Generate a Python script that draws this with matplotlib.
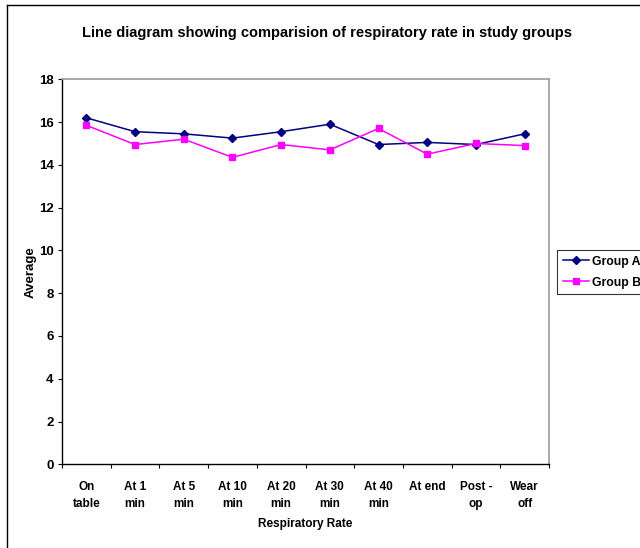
import matplotlib
matplotlib.use("Agg")
import matplotlib.pyplot as plt
from matplotlib.lines import Line2D

plt.rcParams['font.family'] = ['Liberation Sans', 'DejaVu Sans']
plt.rcParams['font.weight'] = 'bold'

categories = ["On\ntable", "At 1\nmin", "At 5\nmin", "At 10\nmin", "At 20\nmin",
              "At 30\nmin", "At 40\nmin", "At end", "Post -\nop", "Wear\noff"]
group_a = [16.2, 15.55, 15.45, 15.25, 15.55, 15.9, 14.95, 15.05, 14.95, 15.45]
group_b = [15.85, 14.95, 15.2, 14.35, 14.95, 14.7, 15.7, 14.5, 15.0, 14.9]
y_ticks = [0, 2, 4, 6, 8, 10, 12, 14, 16, 18]

fig = plt.figure(figsize=(6.4, 5.48), dpi=100)
ax = fig.add_axes([62/640, 1-464.3/548, (549-62)/640, (464.3-79.3)/548])

x = list(range(len(categories)))
ax.plot(x, group_a, color='#000080', marker='D', markersize=4.5, linewidth=1.1, label='Group A')
ax.plot(x, group_b, color='#FF00FF', marker='s', markersize=5, linewidth=1.1, label='Group B')

ax.set_xlim(-0.5, len(categories) - 0.5)
ax.set_ylim(0, 18)
ax.set_yticks(y_ticks)
ax.set_yticklabels([str(v) for v in y_ticks], fontsize=9.5, fontweight='bold')
ax.set_xticks([i - 0.5 for i in range(len(categories) + 1)])
ax.set_xticklabels([])
ax.set_xticks(x, minor=True)
ax.set_xticklabels(categories, minor=True, fontsize=8.5, fontweight='bold', linespacing=1.55)
ax.tick_params(axis='x', which='minor', length=0, pad=12)
ax.tick_params(axis='x', which='major', length=3, direction='out', color='black')
ax.tick_params(axis='y', length=3, direction='out', color='black', pad=3)

for s in ['top', 'right']:
    ax.spines[s].set_color('#999999')
    ax.spines[s].set_linewidth(1.2)
for s in ['left', 'bottom']:
    ax.spines[s].set_color('black')
    ax.spines[s].set_linewidth(1.0)

ax.set_xlabel('Respiratory Rate', fontsize=8.5, fontweight='bold', labelpad=6)
ax.set_ylabel('Average', fontsize=9.5, fontweight='bold')
ax.yaxis.set_label_coords((37-62)/487, 0.5)

fig.text(327/640, 1-33/548, 'Line diagram showing comparision of respiratory rate in study groups',
         ha='center', va='center', fontsize=10.5, fontweight='bold')

leg = ax.legend(loc='upper left', bbox_to_anchor=(557/640, 1-250/548),
                bbox_transform=fig.transFigure, frameon=True, fancybox=False,
                fontsize=8.8, handlelength=2.2, borderpad=0.45, labelspacing=0.75,
                handletextpad=0.2, borderaxespad=0)
leg.get_frame().set_edgecolor('black')
leg.get_frame().set_linewidth(0.8)
for t in leg.get_texts():
    t.set_fontweight('bold')

fig.add_artist(Line2D([7/640, 7/640], [0, 1-5/548], transform=fig.transFigure, color='black', linewidth=1))
fig.add_artist(Line2D([7/640, 1], [1-5/548, 1-5/548], transform=fig.transFigure, color='black', linewidth=1))

fig.savefig('out.png', dpi=100)
